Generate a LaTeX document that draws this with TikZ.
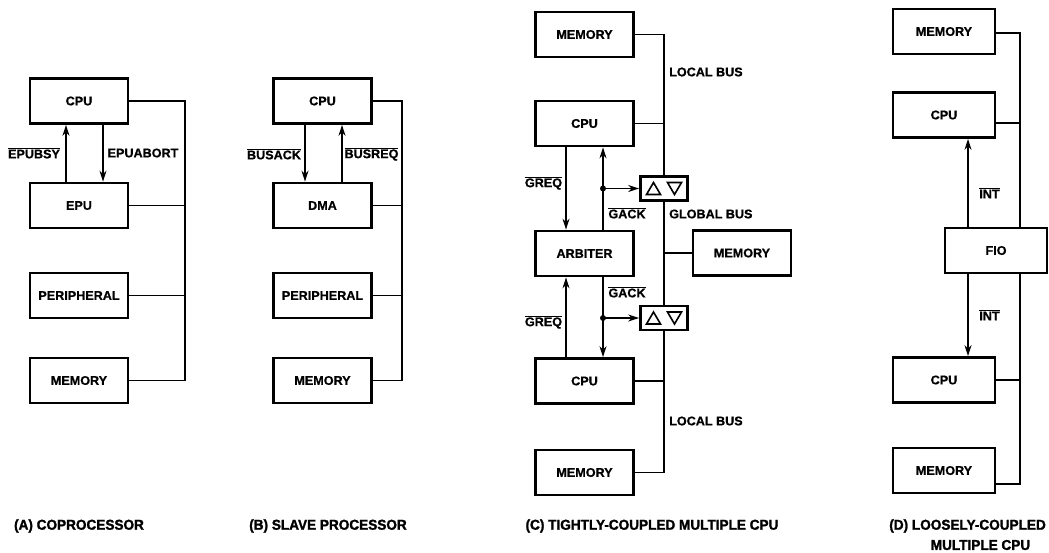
\documentclass[tikz,border=0pt]{standalone}
\usepackage{fontspec}
\setmainfont[BoldFeatures={FakeBold=0.8}]{Liberation Sans}
\newfontfamily\heavy[BoldFeatures={FakeBold=1.6,FakeStretch=0.95}]{Liberation Sans}
\usetikzlibrary{arrows.meta}
\newcommand\ovl[1]{$\overline{\mbox{#1}}$}
\begin{document}
\begin{tikzpicture}[x=1pt,y=-1pt,
  box/.style={draw,line width=2.8pt,minimum width=98pt,minimum height=45pt,inner sep=0pt,font=\bfseries\fontsize{12.6}{14}\selectfont},
  xcvr/.style={draw,line width=2.8pt,minimum width=47pt,minimum height=24pt,inner sep=0pt},
  bus/.style={line width=1.6pt},
  sig/.style={line width=1.6pt,-{Stealth[length=11pt,width=7pt]}},
  lbl/.style={font=\bfseries\fontsize{12.6}{14}\selectfont,inner sep=0pt},
  ttl/.style={font=\heavy\bfseries\fontsize{14.3}{16}\selectfont,inner sep=0pt},
  dot/.style={circle,fill,inner sep=0pt,minimum size=6pt}]
\useasboundingbox (0,0) rectangle (1049,552);

% ---------- (A) ----------
\node[box] (aCPU) at (79,101) {CPU};
\node[box] (aEPU) at (79,205.5) {EPU};
\node[box] (aPER) at (79,295.5) {PERIPHERAL};
\node[box] (aMEM) at (79,380.5) {MEMORY};
\coordinate (aBX) at (185,0);
\draw[bus] (aCPU.east) -| (aBX |- aMEM.east) -- (aMEM.east);
\draw[bus] (aEPU.east) -- (aEPU.east -| aBX);
\draw[bus] (aPER.east) -- (aPER.east -| aBX);
\draw[sig] ([xshift=-13pt]aEPU.north) -- ([xshift=-13pt]aCPU.south);
\draw[sig] ([xshift=24pt]aCPU.south) -- ([xshift=24pt]aEPU.north);
\node[lbl] (aL1) at (34,153) {\ovl{EPUBSY}};
\node[lbl] (aL2) at (143,153) {EPUABORT};
\node[ttl] (aT) at (79,526) {(A) COPROCESSOR};

% ---------- (B) ----------
\node[box] (bCPU) at (322.5,101) {CPU};
\node[box] (bDMA) at (322.5,205.5) {DMA};
\node[box] (bPER) at (322.5,295.5) {PERIPHERAL};
\node[box] (bMEM) at (322.5,380.5) {MEMORY};
\coordinate (bBX) at (402,0);
\draw[bus] (bCPU.east) -| (bBX |- bMEM.east) -- (bMEM.east);
\draw[bus] (bDMA.east) -- (bDMA.east -| bBX);
\draw[bus] (bPER.east) -- (bPER.east -| bBX);
\draw[sig] ([xshift=-17.5pt]bCPU.south) -- ([xshift=-17.5pt]bDMA.north);
\draw[sig] ([xshift=19.5pt]bDMA.north) -- ([xshift=19.5pt]bCPU.south);
\node[lbl] (bL1) at (274,154) {\ovl{BUSACK}};
\node[lbl] (bL2) at (371.5,154) {\ovl{BUSREQ}};
\node[ttl] (bT) at (328,526) {(B) SLAVE PROCESSOR};

% ---------- (C) ----------
\node[box] (cM1) at (584.5,34.5) {MEMORY};
\node[box] (cC1) at (584.5,123.5) {CPU};
\node[box] (cARB) at (584.5,253.5) {ARBITER};
\node[box] (cC2) at (584.5,381) {CPU};
\node[box] (cM2) at (584.5,472.5) {MEMORY};
\node[box] (cGM) at (742,253) {MEMORY};
\node[xcvr] (cX1) at (664,188.5) {};
\node[xcvr] (cX2) at (664,318) {};
\foreach \n in {cX1,cX2}{
  \begin{scope}[shift={(\n.center)},line width=1.6pt]
    \draw (-17.5,6) -- (-3.5,6) -- (-10.5,-6) -- cycle;
    \draw (3.5,-6) -- (17.5,-6) -- (10.5,6) -- cycle;
  \end{scope}
}
\draw[bus] (cM1.east) -| (cX1.north);
\draw[bus] (cC1.east) -- (cC1.east -| cX1.north);
\draw[bus] (cX1.south) -- (cX2.north);
\draw[bus] (cGM.west) -- (cGM.west -| cX1.south);
\draw[bus] (cX2.south) |- (cM2.east);
\draw[bus] (cC2.east) -- (cC2.east -| cX2.south);
\draw[sig] ([xshift=-18.5pt]cC1.south) -- ([xshift=-18.5pt]cARB.north);
\draw[sig] ([xshift=18.5pt]cARB.north) -- ([xshift=18.5pt]cC1.south);
\draw[sig] ([xshift=-18.5pt]cC2.north) -- ([xshift=-18.5pt]cARB.south);
\draw[sig] ([xshift=18.5pt]cARB.south) -- ([xshift=18.5pt]cC2.north);
\node[dot] (cD1) at (603,188.5) {};
\node[dot] (cD2) at (603,318) {};
\draw[sig] (cD1.center) -- (cX1.west);
\draw[sig] (cD2.center) -- (cX2.west);
\node[lbl] (cL1) at (543.5,183) {\ovl{GREQ}};
\node[lbl] (cL2) at (627,213) {\ovl{GACK}};
\node[lbl] (cL3) at (627,292) {\ovl{GACK}};
\node[lbl] (cL4) at (543.5,322) {\ovl{GREQ}};
\node[lbl,anchor=west] (cL5) at (669,214) {GLOBAL BUS};
\node[lbl,anchor=west] (cL6) at (669,72) {LOCAL BUS};
\node[lbl,anchor=west] (cL7) at (669,421) {LOCAL BUS};
\node[ttl] (cT) at (652,526) {(C) TIGHTLY-COUPLED MULTIPLE CPU};

% ---------- (D) ----------
\node[box,minimum width=102pt] (dM1) at (944,31.5) {MEMORY};
\node[box,minimum width=102pt] (dC1) at (944,115) {CPU};
\node[box,minimum width=102pt] (dFIO) at (996,250.5) {FIO};
\node[box,minimum width=102pt] (dC2) at (944,380) {CPU};
\node[box,minimum width=102pt] (dM2) at (944,470.5) {MEMORY};
\coordinate (dBX) at (1020,0);
\draw[bus] ([yshift=-1.5pt]dM1.east) -| (dBX |- dFIO.north);
\draw[bus] ([yshift=-8pt]dC1.east) -- ([yshift=-8pt]dC1.east -| dBX);
\draw[bus] (dBX |- dFIO.south) |- ([yshift=-13.5pt]dM2.east);
\draw[bus] (dC2.east) -- (dC2.east -| dBX);
\coordinate (dAX) at (968,0);
\draw[sig] (dAX |- dFIO.north) -- (dAX |- dC1.south);
\draw[sig] (dAX |- dFIO.south) -- (dAX |- dC2.north);
\node[lbl] (dL1) at (989.5,193) {\ovl{INT}};
\node[lbl] (dL2) at (989.5,315) {\ovl{INT}};
\node[ttl,anchor=east] (dT1) at (1046,526) {(D) LOOSELY-COUPLED};
\node[ttl] (dT2) at (980.5,545) {MULTIPLE CPU};
\end{tikzpicture}
\end{document}
